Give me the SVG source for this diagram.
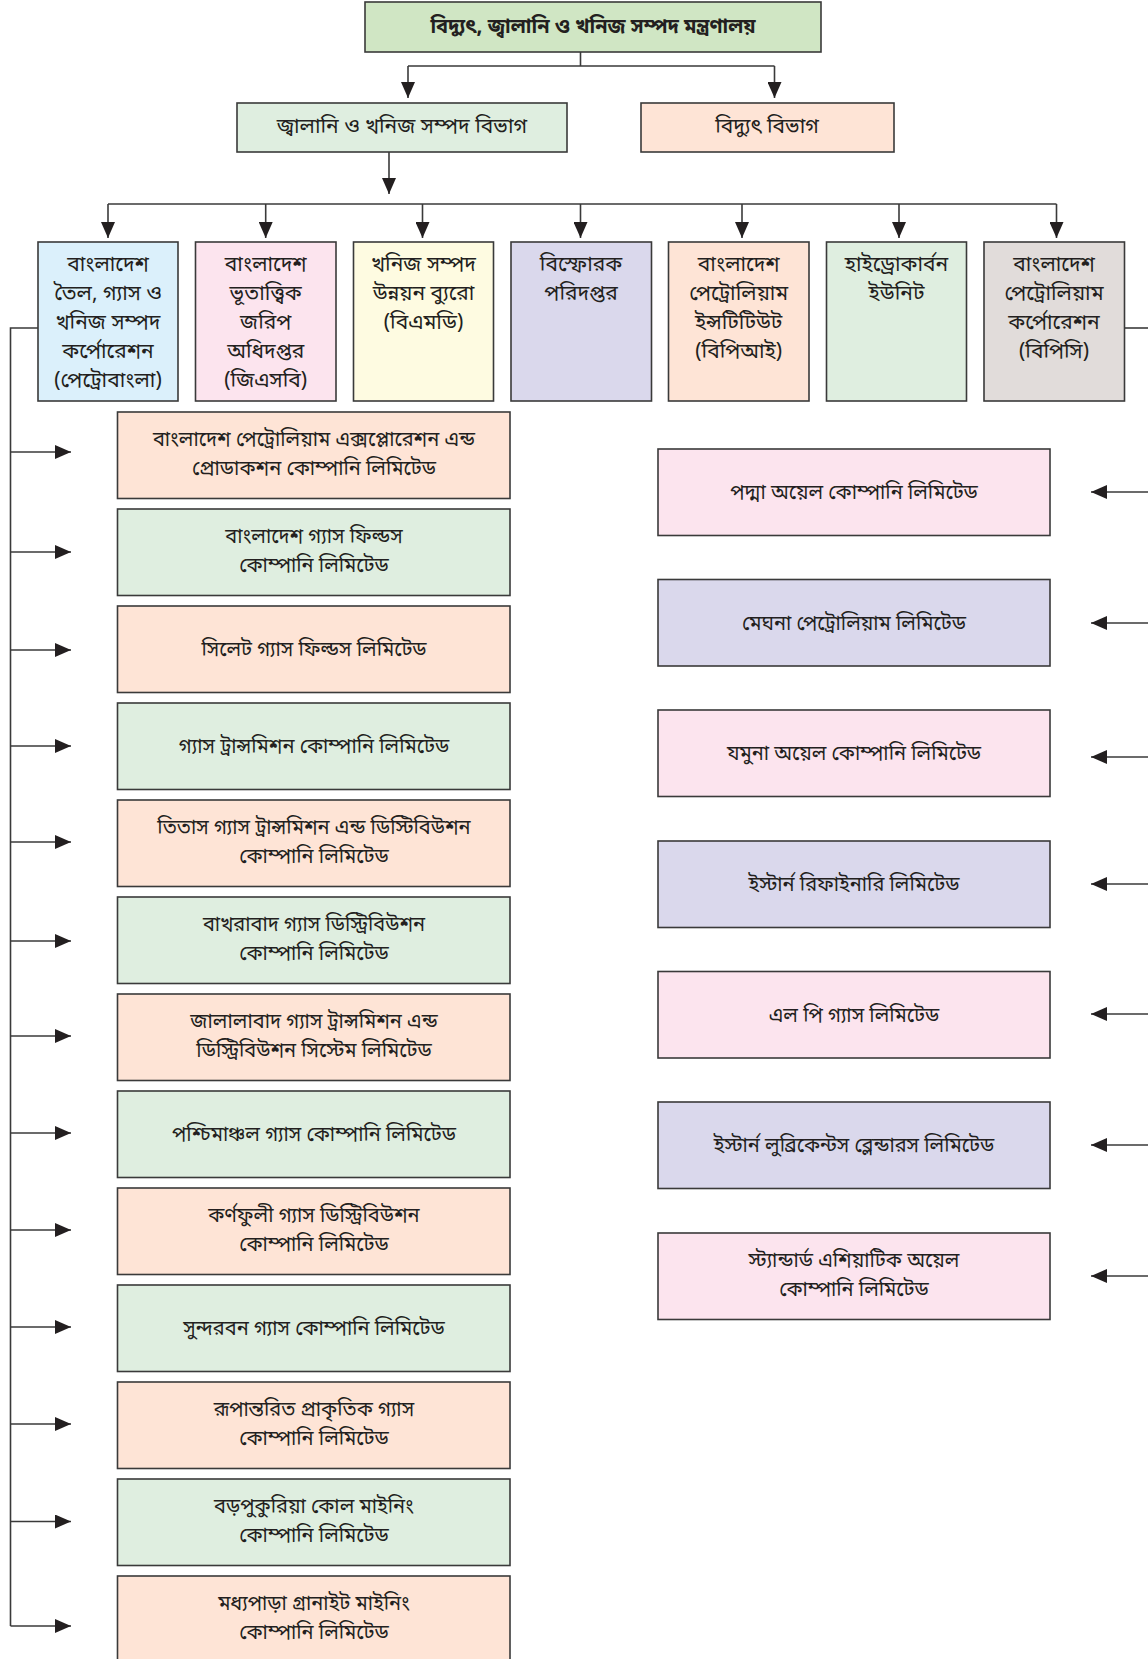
<svg xmlns="http://www.w3.org/2000/svg" width="1148" height="1659" viewBox="0 0 1148 1659">
<style>
text{font-family:"Noto Sans Bengali","Lohit Bengali","Noto Sans","FreeSans",sans-serif;font-size:21px;fill:#231f20;text-anchor:middle}
.b{font-weight:bold;font-size:20px}
.s{font-size:20px}
rect{stroke:#3a3a3a;stroke-width:1.6}
.cn{fill:none;stroke:#3a3a3a;stroke-width:1.6}
.g1{fill:#d0e6c4}.gp{fill:#dfeee0}.pe{fill:#fee4d6}.bl{fill:#dbf0fb}.pk{fill:#fce4ee}.ye{fill:#fefbe1}.la{fill:#dad8ec}.gr{fill:#e1dcda}
</style>
<defs>
<marker id="ah" markerWidth="16" markerHeight="14" refX="16" refY="7" orient="auto" markerUnits="userSpaceOnUse"><path d="M0,0 L16,7 L0,14 z" fill="#231f20"/></marker>
</defs>
<g id="connectors">
<path class="cn" d="M580.5,52 V66 M408,66 H774.5"/>
<path class="cn" d="M408,66 V98" marker-end="url(#ah)"/>
<path class="cn" d="M774.5,66 V98" marker-end="url(#ah)"/>
<path class="cn" d="M389,152 V194" marker-end="url(#ah)"/>
<path class="cn" d="M108,204 H1056.5"/>
<path class="cn" d="M108,204 V238" marker-end="url(#ah)"/>
<path class="cn" d="M265.7,204 V238" marker-end="url(#ah)"/>
<path class="cn" d="M422.5,204 V238" marker-end="url(#ah)"/>
<path class="cn" d="M580.5,204 V238" marker-end="url(#ah)"/>
<path class="cn" d="M742,204 V238" marker-end="url(#ah)"/>
<path class="cn" d="M899,204 V238" marker-end="url(#ah)"/>
<path class="cn" d="M1056.5,204 V238" marker-end="url(#ah)"/>
<path class="cn" d="M38,328 H10.5 V1626"/>
<path class="cn" d="M1124.5,328 H1150"/>
<path class="cn" d="M10.5,452 H71" marker-end="url(#ah)"/>
<path class="cn" d="M10.5,552 H71" marker-end="url(#ah)"/>
<path class="cn" d="M10.5,650 H71" marker-end="url(#ah)"/>
<path class="cn" d="M10.5,746 H71" marker-end="url(#ah)"/>
<path class="cn" d="M10.5,842 H71" marker-end="url(#ah)"/>
<path class="cn" d="M10.5,941 H71" marker-end="url(#ah)"/>
<path class="cn" d="M10.5,1036 H71" marker-end="url(#ah)"/>
<path class="cn" d="M10.5,1133 H71" marker-end="url(#ah)"/>
<path class="cn" d="M10.5,1230 H71" marker-end="url(#ah)"/>
<path class="cn" d="M10.5,1327 H71" marker-end="url(#ah)"/>
<path class="cn" d="M10.5,1424 H71" marker-end="url(#ah)"/>
<path class="cn" d="M10.5,1521.5 H71" marker-end="url(#ah)"/>
<path class="cn" d="M10.5,1626 H71" marker-end="url(#ah)"/>
<path class="cn" d="M1150,492 H1091" marker-end="url(#ah)"/>
<path class="cn" d="M1150,623 H1091" marker-end="url(#ah)"/>
<path class="cn" d="M1150,757 H1091" marker-end="url(#ah)"/>
<path class="cn" d="M1150,884 H1091" marker-end="url(#ah)"/>
<path class="cn" d="M1150,1014 H1091" marker-end="url(#ah)"/>
<path class="cn" d="M1150,1145 H1091" marker-end="url(#ah)"/>
<path class="cn" d="M1150,1276 H1091" marker-end="url(#ah)"/>
</g>
<g id="n_ministry"><rect class="g1" x="365" y="2" width="456" height="50"/><text class="b" x="593" y="33">বিদ্যুৎ, জ্বালানি ও খনিজ সম্পদ মন্ত্রণালয়</text></g>
<g id="n_emrd"><rect class="gp" x="237" y="103" width="330" height="49"/><text x="402" y="133">জ্বালানি ও খনিজ সম্পদ বিভাগ</text></g>
<g id="n_power"><rect class="pe" x="641" y="103" width="253" height="49"/><text x="767" y="133">বিদ্যুৎ বিভাগ</text></g>

<g id="n_petrobangla"><rect class="bl" x="38" y="242" width="140" height="159"/><text x="108" y="271">বাংলাদেশ</text><text x="108" y="300">তৈল, গ্যাস ও</text><text x="108" y="329">খনিজ সম্পদ</text><text x="108" y="358">কর্পোরেশন</text><text x="108" y="387">(পেট্রোবাংলা)</text></g>
<g id="n_gsb"><rect class="pk" x="195.5" y="242" width="140.5" height="159"/><text x="265.7" y="271">বাংলাদেশ</text><text x="265.7" y="300">ভূতাত্ত্বিক</text><text x="265.7" y="329">জরিপ</text><text x="265.7" y="358">অধিদপ্তর</text><text x="265.7" y="387">(জিএসবি)</text></g>
<g id="n_bmd"><rect class="ye" x="353.5" y="242" width="140" height="159"/><text x="423.5" y="271">খনিজ সম্পদ</text><text x="423.5" y="300">উন্নয়ন ব্যুরো</text><text x="423.5" y="329">(বিএমডি)</text></g>
<g id="n_explosives"><rect class="la" x="511" y="242" width="140.5" height="159"/><text x="581" y="271">বিস্ফোরক</text><text x="581" y="300">পরিদপ্তর</text></g>
<g id="n_bpi"><rect class="pe" x="668.5" y="242" width="140.5" height="159"/><text x="738.7" y="271">বাংলাদেশ</text><text x="738.7" y="300">পেট্রোলিয়াম</text><text x="738.7" y="329">ইন্সটিটিউট</text><text x="738.7" y="358">(বিপিআই)</text></g>
<g id="n_hcu"><rect class="gp" x="826.5" y="242" width="140" height="159"/><text x="896.5" y="271">হাইড্রোকার্বন</text><text x="896.5" y="300">ইউনিট</text></g>
<g id="n_bpc"><rect class="gr" x="984" y="242" width="140.5" height="159"/><text x="1054" y="271">বাংলাদেশ</text><text x="1054" y="300">পেট্রোলিয়াম</text><text x="1054" y="329">কর্পোরেশন</text><text x="1054" y="358">(বিপিসি)</text></g>

<g id="n_bapex"><rect class="pe" x="117.5" y="412" width="392.5" height="86.5"/><text class="s" x="314" y="446">বাংলাদেশ পেট্রোলিয়াম এক্সপ্লোরেশন এন্ড</text><text class="s" x="314" y="475">প্রোডাকশন কোম্পানি লিমিটেড</text></g>
<g id="n_bgfcl"><rect class="gp" x="117.5" y="509" width="392.5" height="86.5"/><text class="s" x="314" y="543">বাংলাদেশ গ্যাস ফিল্ডস</text><text class="s" x="314" y="572">কোম্পানি লিমিটেড</text></g>
<g id="n_sgfl"><rect class="pe" x="117.5" y="606" width="392.5" height="86.5"/><text class="s" x="314" y="656">সিলেট গ্যাস ফিল্ডস লিমিটেড</text></g>
<g id="n_gtcl"><rect class="gp" x="117.5" y="703" width="392.5" height="86.5"/><text class="s" x="314" y="753">গ্যাস ট্রান্সমিশন কোম্পানি লিমিটেড</text></g>
<g id="n_titas"><rect class="pe" x="117.5" y="800" width="392.5" height="86.5"/><text class="s" x="314" y="834">তিতাস গ্যাস ট্রান্সমিশন এন্ড ডিস্টিবিউশন</text><text class="s" x="314" y="863">কোম্পানি লিমিটেড</text></g>
<g id="n_bakhrabad"><rect class="gp" x="117.5" y="897" width="392.5" height="86.5"/><text class="s" x="314" y="931">বাখরাবাদ গ্যাস ডিস্ট্রিবিউশন</text><text class="s" x="314" y="960">কোম্পানি লিমিটেড</text></g>
<g id="n_jalalabad"><rect class="pe" x="117.5" y="994" width="392.5" height="86.5"/><text class="s" x="314" y="1028">জালালাবাদ গ্যাস ট্রান্সমিশন এন্ড</text><text class="s" x="314" y="1057">ডিস্ট্রিবিউশন সিস্টেম লিমিটেড</text></g>
<g id="n_pgcl"><rect class="gp" x="117.5" y="1091" width="392.5" height="86.5"/><text class="s" x="314" y="1141">পশ্চিমাঞ্চল গ্যাস কোম্পানি লিমিটেড</text></g>
<g id="n_kgdcl"><rect class="pe" x="117.5" y="1188" width="392.5" height="86.5"/><text class="s" x="314" y="1222">কর্ণফুলী গ্যাস ডিস্ট্রিবিউশন</text><text class="s" x="314" y="1251">কোম্পানি লিমিটেড</text></g>
<g id="n_sgcl"><rect class="gp" x="117.5" y="1285" width="392.5" height="86.5"/><text class="s" x="314" y="1335">সুন্দরবন গ্যাস কোম্পানি লিমিটেড</text></g>
<g id="n_rpgcl"><rect class="pe" x="117.5" y="1382" width="392.5" height="86.5"/><text class="s" x="314" y="1416">রূপান্তরিত প্রাকৃতিক গ্যাস</text><text class="s" x="314" y="1445">কোম্পানি লিমিটেড</text></g>
<g id="n_bcmcl"><rect class="gp" x="117.5" y="1479" width="392.5" height="86.5"/><text class="s" x="314" y="1513">বড়পুকুরিয়া কোল মাইনিং</text><text class="s" x="314" y="1542">কোম্পানি লিমিটেড</text></g>
<g id="n_mgmcl"><rect class="pe" x="117.5" y="1576" width="392.5" height="86.5"/><text class="s" x="314" y="1610">মধ্যপাড়া গ্রানাইট মাইনিং</text><text class="s" x="314" y="1639">কোম্পানি লিমিটেড</text></g>

<g id="n_padma"><rect class="pk" x="658" y="449" width="392" height="86.5"/><text class="s" x="854" y="499">পদ্মা অয়েল কোম্পানি লিমিটেড</text></g>
<g id="n_meghna"><rect class="la" x="658" y="579.5" width="392" height="86.5"/><text class="s" x="854" y="630">মেঘনা পেট্রোলিয়াম লিমিটেড</text></g>
<g id="n_jamuna"><rect class="pk" x="658" y="710" width="392" height="86.5"/><text class="s" x="854" y="760">যমুনা অয়েল কোম্পানি লিমিটেড</text></g>
<g id="n_erl"><rect class="la" x="658" y="841" width="392" height="86.5"/><text class="s" x="854" y="891">ইস্টার্ন রিফাইনারি লিমিটেড</text></g>
<g id="n_lpg"><rect class="pk" x="658" y="971.5" width="392" height="86.5"/><text class="s" x="854" y="1022">এল পি গ্যাস লিমিটেড</text></g>
<g id="n_elbl"><rect class="la" x="658" y="1102" width="392" height="86.5"/><text class="s" x="854" y="1152">ইস্টার্ন লুব্রিকেন্টস ব্লেন্ডারস লিমিটেড</text></g>
<g id="n_saoc"><rect class="pk" x="658" y="1233" width="392" height="86.5"/><text class="s" x="854" y="1267">স্ট্যান্ডার্ড এশিয়াটিক অয়েল</text><text class="s" x="854" y="1296">কোম্পানি লিমিটেড</text></g>
</svg>
